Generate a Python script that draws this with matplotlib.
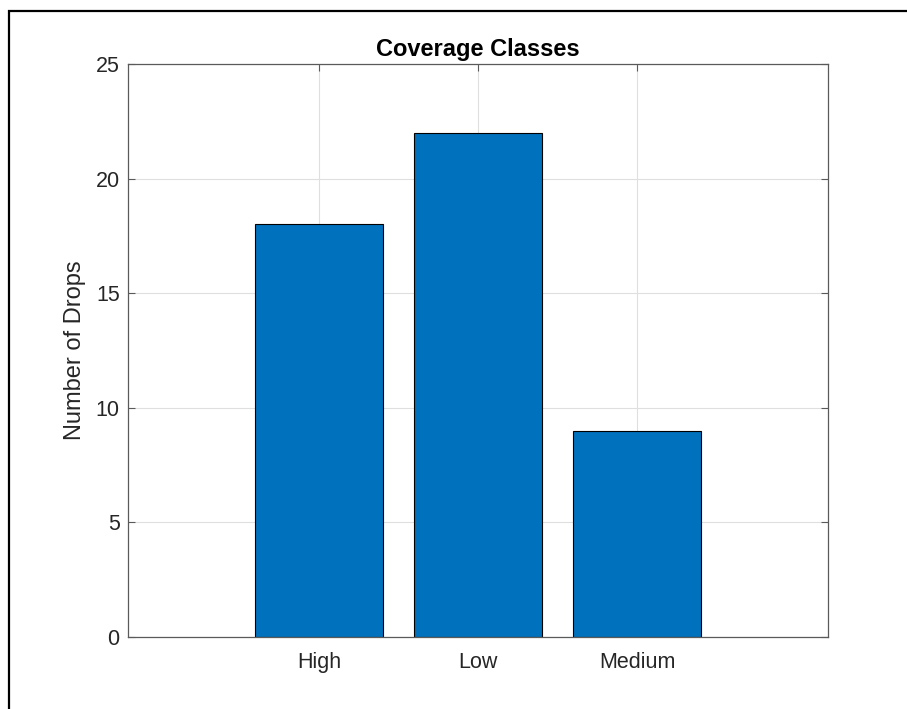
import matplotlib.pyplot as plt
from matplotlib.patches import Rectangle

classes = ["High", "Low", "Medium"]
drops = [18, 22, 9]
yticks = [0, 5, 10, 15, 20, 25]

plt.rcParams["font.family"] = ["Liberation Sans", "DejaVu Sans"]

fig = plt.figure(figsize=(9.07, 7.09), dpi=100)
# frame around the exported figure (only top/left visible in the crop)
fig.patches.append(Rectangle((8.5 / 907, -0.1), 1.2, 1.1 - 10.5 / 709,
                             transform=fig.transFigure, fill=False,
                             edgecolor="black", linewidth=1.6))

ax = fig.add_axes([128 / 907, 1 - 637 / 709, 700 / 907, 573 / 709])
x = list(range(1, len(classes) + 1))
ax.bar(x, drops, width=0.8, color="#0072BD", edgecolor="black", linewidth=0.8, zorder=3)

ax.set_xlim(-0.2, 4.2)
ax.set_ylim(0, 25)
ax.set_xticks(x)
ax.set_xticklabels(classes)
ax.set_yticks(yticks)
ax.grid(True, color="#dfdfdf", linewidth=0.8, zorder=0)
ax.set_axisbelow(True)

txt = "#262626"
for s in ax.spines.values():
    s.set_color("#5a5a5a")
    s.set_linewidth(0.9)
    s.set_zorder(4)
ax.tick_params(direction="in", length=5, color="#5a5a5a", labelcolor=txt,
               labelsize=15.5, pad=6, top=True, right=True)
ax.tick_params(axis="x", pad=11)

ax.set_ylabel("Number of Drops", fontsize=17, color=txt, labelpad=7)
ax.set_title("Coverage Classes", fontsize=17, fontweight="bold", color="black", pad=6)

fig.savefig("out.png", dpi=100)
